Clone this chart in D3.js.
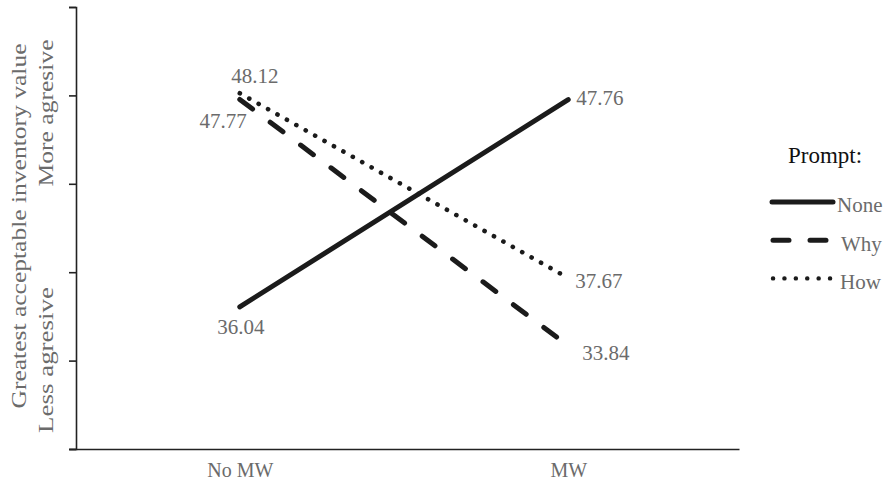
<!DOCTYPE html>
<html>
<head>
<meta charset="utf-8">
<script src="https://cdn.jsdelivr.net/npm/d3@7"></script>
<style>
  body { margin: 0; background: #fff; }
  svg { display: block; }
  text { font-family: "Liberation Serif", "Times New Roman", serif; }
</style>
</head>
<body>
<svg id="chart" width="888" height="487"></svg>
<script>
"use strict";
// data
var categories = ["No MW", "MW"];
var seriesNames = ["None", "Why", "How"];
var noneValues = [36.04, 47.76];
var whyValues = [47.77, 33.84];
var howValues = [48.12, 37.67];
var yDomain = [28, 53];   // axis carries no labels, ticks every 5
var yTicks = [28, 33, 38, 43, 48, 53];

var series = [
  { name: seriesNames[0], values: noneValues, dash: null },
  { name: seriesNames[1], values: whyValues, dash: "16,22" },
  { name: seriesNames[2], values: howValues, dash: "0.1,10.7" }
];

// label offsets [dx, dy, anchor] for each point
var labelPos = {
  None: [[1, 20, "middle"], [8, -2, "start"]],
  Why: [[7, 21, "end"], [14, 7, "start"]],
  How: [[15, -18, "middle"], [7, 3, "start"]]
};

var FONT = "Liberation Serif";
var GREY = "#6b6b6b";
var svg = d3.select("#chart");
var axisLeft = 76, axisTop = 7, axisBottom = 449;

var x = d3.scalePoint()
  .domain(categories)
  .range([69, 739])
  .padding(0.52);

var y = d3.scaleLinear()
  .domain(yDomain)
  .range([axisBottom, axisTop]);

// y axis
var yAxis = svg.append("g")
  .attr("transform", "translate(" + axisLeft + ",0)")
  .call(d3.axisLeft(y).tickValues(yTicks).tickSize(7).tickFormat(""));
yAxis.select(".domain").attr("stroke", "#222").attr("stroke-width", 1.6);
yAxis.selectAll(".tick line").attr("stroke", "#222").attr("stroke-width", 1.6);

// x axis
var xAxis = svg.append("g")
  .attr("transform", "translate(0," + axisBottom + ")")
  .call(d3.axisBottom(x).tickSize(0).tickSizeOuter(0).tickPadding(14));
xAxis.attr("font-family", FONT).attr("font-size", 20);
xAxis.select(".domain").attr("stroke", "#222").attr("stroke-width", 1.6);
xAxis.selectAll(".tick text")
  .attr("font-family", FONT)
  .attr("font-size", 20)
  .attr("fill", GREY);

// y titles
function vText(cx, cy, len, str) {
  svg.append("text")
    .attr("transform", "translate(" + cx + "," + cy + ") rotate(-90)")
    .attr("text-anchor", "middle")
    .attr("font-family", FONT)
    .attr("font-size", 21)
    .attr("fill", GREY)
    .attr("textLength", len)
    .attr("lengthAdjust", "spacingAndGlyphs")
    .text(str);
}
vText(26, 226, 365, "Greatest acceptable inventory value");
vText(53, 113, 147, "More agresive");
vText(53, 360, 146, "Less agresive");

var line = d3.line()
  .x(function (d, i) { return x(categories[i]); })
  .y(function (d) { return y(d); });

svg.selectAll("path.series")
  .data(series)
  .enter()
  .append("path")
  .attr("class", "series")
  .attr("d", function (d) { return line(d.values); })
  .attr("fill", "none")
  .attr("stroke", "#1b1b1b")
  .attr("stroke-width", function (d) { return d.name === "How" ? 4.6 : 5; })
  .attr("stroke-linecap", "round")
  .attr("stroke-dasharray", function (d) { return d.dash; });

// data labels
series.forEach(function (s) {
  s.values.forEach(function (v, i) {
    var p = labelPos[s.name][i];
    svg.append("text")
      .attr("x", x(categories[i]) + p[0])
      .attr("y", y(v) + p[1])
      .attr("dy", "0.35em")
      .attr("text-anchor", p[2])
      .attr("font-family", FONT)
      .attr("font-size", 21)
      .attr("fill", GREY)
      .text(d3.format(".2f")(v));
  });
});

// legend
svg.append("text")
  .attr("x", 825)
  .attr("y", 155)
  .attr("dy", "0.35em")
  .attr("text-anchor", "middle")
  .attr("font-family", FONT)
  .attr("font-size", 23)
  .attr("fill", "#111")
  .text("Prompt:");

var legend = svg.selectAll("g.legend")
  .data(series)
  .enter()
  .append("g")
  .attr("class", "legend")
  .attr("transform", function (d, i) { return "translate(0," + (202 + i * 38.2) + ")"; });

legend.append("line")
  .attr("x1", function (d) { return d.dash ? 773 : 772; })
  .attr("x2", 833)
  .attr("stroke", "#1b1b1b")
  .attr("stroke-width", function (d) { return d.name === "How" ? 4.4 : 5; })
  .attr("stroke-linecap", "round")
  .attr("stroke-dasharray", function (d) {
    if (d.name === "How") return "0.1,11.3";
    return d.dash ? "16,21" : null;
  });

legend.append("text")
  .attr("x", function (d, i) { return [837, 841, 840][i]; })
  .attr("y", 3)
  .attr("dy", "0.35em")
  .attr("font-family", FONT)
  .attr("font-size", 21)
  .attr("fill", GREY)
  .text(function (d) { return d.name; });
</script>
</body>
</html>
